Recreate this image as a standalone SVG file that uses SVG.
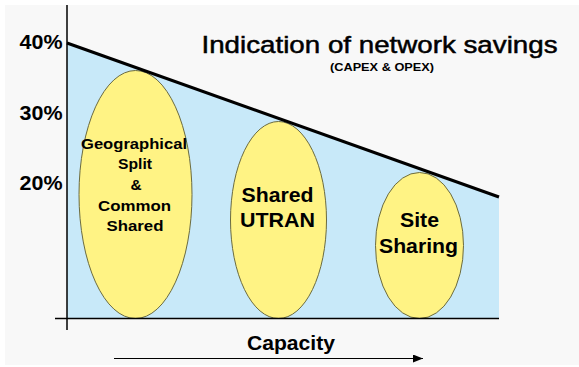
<svg xmlns="http://www.w3.org/2000/svg" width="579" height="367" viewBox="0 0 579 367">
<style>
.lbl{font-family:"Liberation Sans",Arial,sans-serif;font-weight:bold;fill:#000;text-anchor:middle}
.pct{font-family:"Liberation Sans",Arial,sans-serif;font-weight:bold;font-size:19.5px;fill:#000;text-anchor:end}
.ell{fill:#fff384;stroke:#6b6b40;stroke-width:1}
</style>
<defs>
<marker id="ah" markerWidth="10" markerHeight="8" refX="10" refY="4" orient="auto" markerUnits="userSpaceOnUse">
<path d="M0,0 L10,4 L0,8 Z" fill="#000"/>
</marker>
</defs>
<rect x="0" y="0" width="579" height="367" fill="#fff"/>
<rect x="5" y="5" width="574" height="360" fill="#f8f8f8"/>
<polygon points="67,43 499,197 499,318.5 67,318.5" fill="#c8e9f9"/>
<g id="ellipse-geo"><ellipse class="ell" cx="135.5" cy="194.5" rx="56.5" ry="124"/>
<text class="lbl" font-size="15.5" x="134" y="149" textLength="106" lengthAdjust="spacingAndGlyphs">Geographical</text>
<text class="lbl" font-size="15.5" x="135" y="169" textLength="34" lengthAdjust="spacingAndGlyphs">Split</text>
<text class="lbl" font-size="15.5" x="136" y="190">&amp;</text>
<text class="lbl" font-size="15.5" x="134.5" y="210.5" textLength="73" lengthAdjust="spacingAndGlyphs">Common</text>
<text class="lbl" font-size="15.5" x="135" y="230.5" textLength="57" lengthAdjust="spacingAndGlyphs">Shared</text>
</g>
<g id="ellipse-utran"><ellipse class="ell" cx="278.5" cy="220" rx="48" ry="98.5"/>
<text class="lbl" font-size="20.5" x="277.5" y="201.5" textLength="72" lengthAdjust="spacingAndGlyphs">Shared</text>
<text class="lbl" font-size="20.5" x="277.5" y="227" textLength="75" lengthAdjust="spacingAndGlyphs">UTRAN</text>
</g>
<g id="ellipse-site"><ellipse class="ell" cx="419.5" cy="245.5" rx="44" ry="73"/>
<text class="lbl" font-size="20.5" x="419.5" y="226.5" textLength="39" lengthAdjust="spacingAndGlyphs">Site</text>
<text class="lbl" font-size="20.5" x="418.5" y="252.5" textLength="79" lengthAdjust="spacingAndGlyphs">Sharing</text>
</g>
<g id="connectors">
<line x1="67" y1="43" x2="499" y2="197" stroke="#000" stroke-width="3"/>
<line x1="67" y1="5" x2="67" y2="330" stroke="#000" stroke-width="1.5"/>
<line x1="55" y1="318.5" x2="499" y2="318.5" stroke="#000" stroke-width="1.5"/>
<line x1="114" y1="358.5" x2="423" y2="358.5" stroke="#000" stroke-width="1.2" marker-end="url(#ah)"/>
</g>
<g id="labels">
<text class="pct" x="62.5" y="49" textLength="43" lengthAdjust="spacingAndGlyphs">40%</text>
<text class="pct" x="62.5" y="120" textLength="43" lengthAdjust="spacingAndGlyphs">30%</text>
<text class="pct" x="62.5" y="190" textLength="43" lengthAdjust="spacingAndGlyphs">20%</text>
<text font-family="'Liberation Sans',Arial,sans-serif" font-size="24.5" x="201.5" y="53" textLength="356" lengthAdjust="spacingAndGlyphs" fill="#000" stroke="#000" stroke-width="0.5">Indication of network savings</text>
<text font-family="'Liberation Sans',Arial,sans-serif" font-weight="bold" font-size="10.5" x="330" y="70.5" textLength="104" lengthAdjust="spacingAndGlyphs" fill="#000">(CAPEX &amp; OPEX)</text>
<text class="lbl" font-size="20.5" x="291" y="350" textLength="88" lengthAdjust="spacingAndGlyphs">Capacity</text>
</g>
</svg>
